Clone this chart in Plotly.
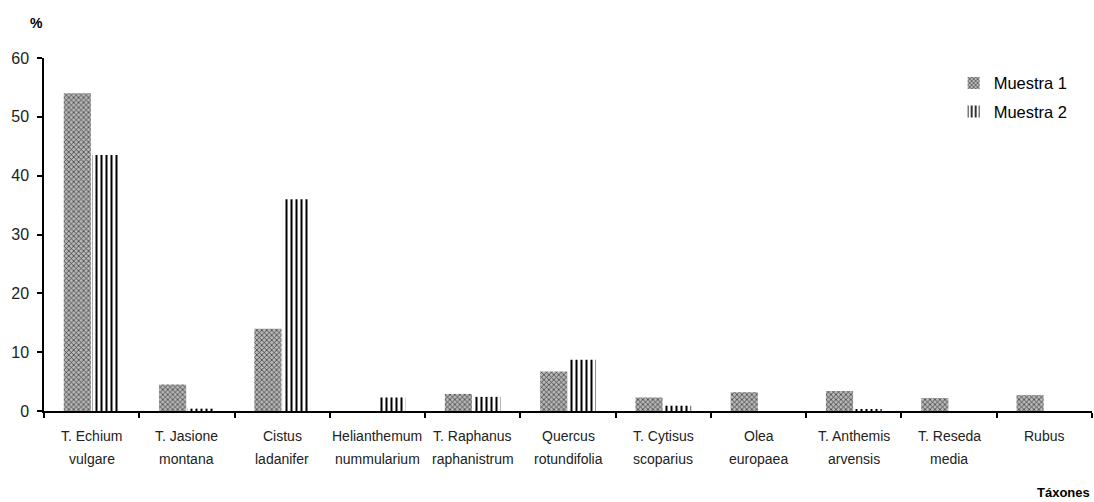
import plotly.graph_objects as go

label_line1 = ["T. Echium", "T. Jasione", "Cistus", "Helianthemum", "T. Raphanus", "Quercus",
               "T. Cytisus", "Olea", "T. Anthemis", "T. Reseda", "Rubus"]
label_line2 = ["vulgare", "montana", "ladanifer", "nummularium", "raphanistrum", "rotundifolia",
               "scoparius", "europaea", "arvensis", "media", ""]
categories = [a + " " + b if b else a for a, b in zip(label_line1, label_line2)]
muestra1 = [54.0, 4.5, 14.0, 0.0, 2.9, 6.7, 2.3, 3.2, 3.4, 2.2, 2.7]
muestra2 = [43.5, 0.4, 36.0, 2.3, 2.4, 8.7, 0.9, 0.0, 0.3, 0.0, 0.0]
y_ticks = [0, 10, 20, 30, 40, 50, 60]

FONT = "Liberation Sans, Arial, sans-serif"

fig = go.Figure()
fig.add_trace(go.Bar(
    x=categories, y=muestra1, name="Muestra 1", legendgroup="a",
    marker=dict(color="#9a9a9a", line=dict(width=0),
                pattern=dict(shape="x", fgcolor="#2a2a2a", bgcolor="#b8b8b8",
                             size=3.5, solidity=0.35, fillmode="replace")),
))
fig.add_trace(go.Bar(
    x=categories, y=muestra2, name="Muestra 2", legendgroup="b",
    marker=dict(color="white", line=dict(width=0),
                pattern=dict(shape="|", fgcolor="black", bgcolor="white",
                             size=5, solidity=0.4, fillmode="replace")),
))

annotations = [
    dict(text="<b>%</b>", x=0.0, y=1.0, xref="paper", yref="paper",
         xanchor="center", yanchor="middle", yshift=35, xshift=-8,
         showarrow=False, font=dict(size=14, family=FONT)),
    dict(text="<b>Táxones</b>", x=1.0, y=0.0, xref="paper", yref="paper",
         xanchor="right", yanchor="middle", yshift=-81, showarrow=False,
         font=dict(size=13, family=FONT)),
]
for cat, l1, l2 in zip(categories, label_line1, label_line2):
    annotations.append(dict(text=l1, x=cat, y=0, xref="x", yref="paper",
                            xanchor="center", yanchor="middle", yshift=-25,
                            showarrow=False, font=dict(size=14, family=FONT, color="#222")))
    if l2:
        annotations.append(dict(text=l2, x=cat, y=0, xref="x", yref="paper",
                                xanchor="center", yanchor="middle", yshift=-48,
                                showarrow=False, font=dict(size=14, family=FONT, color="#222")))

fig.update_layout(
    width=1094, height=502,
    margin=dict(l=44, r=2, t=58, b=91),
    paper_bgcolor="white", plot_bgcolor="white",
    barmode="group", bargap=0.4, bargroupgap=0.05,
    font=dict(family=FONT, color="black", size=13),
    showlegend=True,
    legend=dict(x=0.868, y=0.978, xanchor="left", yanchor="top",
                font=dict(size=16.5, family=FONT), bgcolor="rgba(0,0,0,0)",
                tracegroupgap=4),
    xaxis=dict(showline=True, linecolor="black", linewidth=1.5,
               ticks="outside", ticklen=5, tickcolor="black", tickwidth=1.5,
               tickson="boundaries", showgrid=False, showticklabels=False),
    yaxis=dict(range=[0, 60], tickvals=y_ticks, showline=True, linecolor="black",
               linewidth=1.5, ticks="outside", ticklen=5, tickcolor="black",
               tickwidth=1.5, showgrid=False, zeroline=False, ticklabelstandoff=5,
               tickfont=dict(size=16, family=FONT, color="#222")),
    annotations=annotations,
)

fig.write_html("out.html", config={"displayModeBar": False},
               post_script="document.body.style.margin='0';")
